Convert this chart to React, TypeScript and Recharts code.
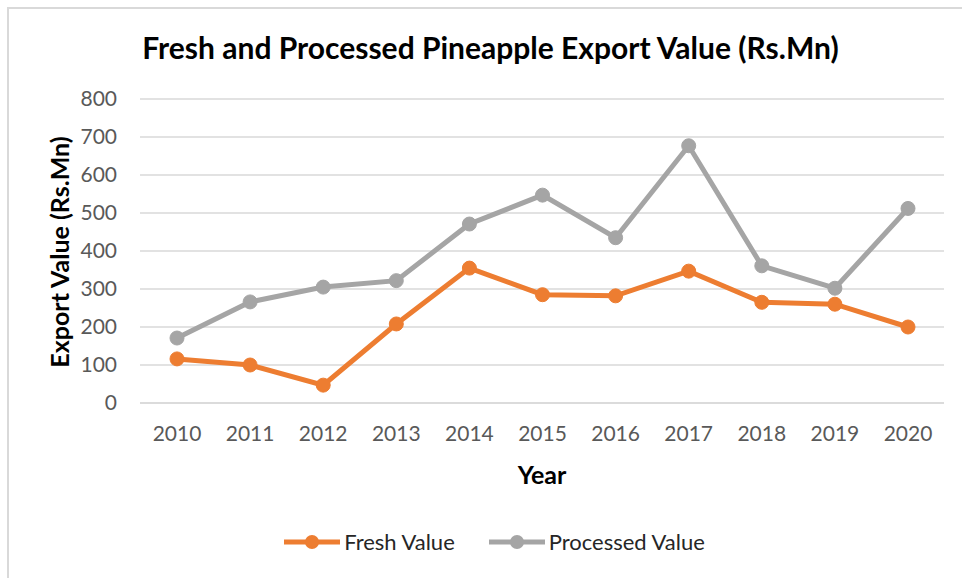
import { LineChart, Line, XAxis, YAxis, CartesianGrid, Legend, Label } from "recharts";

const years = ["2010", "2011", "2012", "2013", "2014", "2015", "2016", "2017", "2018", "2019", "2020"];
const freshValue = [116, 100, 47, 208, 355, 285, 282, 347, 265, 260, 200];
const processedValue = [171, 266, 305, 322, 471, 547, 435, 677, 361, 302, 512];
const yTicks = [0, 100, 200, 300, 400, 500, 600, 700, 800];

const data = years.map((year, i) => ({
  year,
  fresh: freshValue[i],
  processed: processedValue[i],
}));

const FONT = "Lato, 'Open Sans', sans-serif";

function LegendContent({ payload }: any) {
  return (
    <div style={{ display: "flex", justifyContent: "center", alignItems: "center", fontFamily: FONT, fontSize: 22, color: "#262626" }}>
      {(payload || []).map((p: any, i: number) => (
        <div key={p.value} style={{ display: "flex", alignItems: "center", marginLeft: i === 0 ? 0 : 33 }}>
          <svg width={58} height={16} style={{ marginRight: 3 }}>
            <line x1={1} y1={8} x2={57} y2={8} stroke={p.color} strokeWidth={5} />
            <circle cx={29} cy={8} r={7} fill={p.color} />
          </svg>
          <span>{p.value}</span>
        </div>
      ))}
    </div>
  );
}

export default function App() {
  return (
    <div style={{ position: "absolute", left: 0, top: 0, width: 962, height: 578, background: "#fff", overflow: "hidden" }}>
      <div style={{ position: "absolute", left: 7, top: 7, width: 1000, height: 700, borderLeft: "2px solid #d9d9d9", borderTop: "2px solid #d9d9d9" }} />
      <div style={{ position: "absolute", left: 0, top: 29, width: 981, textAlign: "center", fontFamily: FONT, fontWeight: 700, fontSize: 30, lineHeight: "36px", color: "#000" }}>
        Fresh and Processed Pineapple Export Value (Rs.Mn)
      </div>
      <LineChart width={962} height={578} data={data} margin={{ top: 99, right: 18, left: 0, bottom: 145 }}>
        <CartesianGrid vertical={false} stroke="#d9d9d9" strokeWidth={1.3} />
        <XAxis
          dataKey="year"
          height={30}
          padding={{ left: 37, right: 36 }}
          axisLine={{ stroke: "#d9d9d9", strokeWidth: 1.3 }}
          tickLine={false}
          tickSize={0}
          tickMargin={23}
          tick={{ fill: "#595959", fontSize: 21, fontFamily: FONT }}
        >
          <Label
            content={() => (
              <text x={542} y={474} textAnchor="middle" dominantBaseline="central" fontFamily={FONT} fontWeight={700} fontSize={25} fill="#000">
                Year
              </text>
            )}
          />
        </XAxis>
        <YAxis
          width={140}
          domain={[0, 800]}
          ticks={yTicks}
          axisLine={false}
          tickLine={false}
          tickSize={0}
          tickMargin={23}
          tick={{ fill: "#595959", fontSize: 21, fontFamily: FONT }}
        >
          <Label
            content={() => (
              <text
                x={59}
                y={252}
                transform="rotate(-90, 59, 252)"
                textAnchor="middle"
                dominantBaseline="central"
                fontFamily={FONT}
                fontWeight={700}
                fontSize={25}
                fill="#000"
              >
                Export Value (Rs.Mn)
              </text>
            )}
          />
        </YAxis>
        <Legend
          layout="horizontal"
          align="center"
          verticalAlign="middle"
          wrapperStyle={{ top: 528, left: 0, width: 988 }}
          content={<LegendContent />}
        />
        <Line
          name="Fresh Value"
          dataKey="fresh"
          stroke="#ED7D31"
          strokeWidth={5}
          dot={{ r: 7, fill: "#ED7D31", stroke: "#ED7D31", strokeWidth: 1 }}
          activeDot={false}
          isAnimationActive={false}
        />
        <Line
          name="Processed Value"
          dataKey="processed"
          stroke="#A5A5A5"
          strokeWidth={5}
          dot={{ r: 7, fill: "#A5A5A5", stroke: "#A5A5A5", strokeWidth: 1 }}
          activeDot={false}
          isAnimationActive={false}
        />
      </LineChart>
    </div>
  );
}
